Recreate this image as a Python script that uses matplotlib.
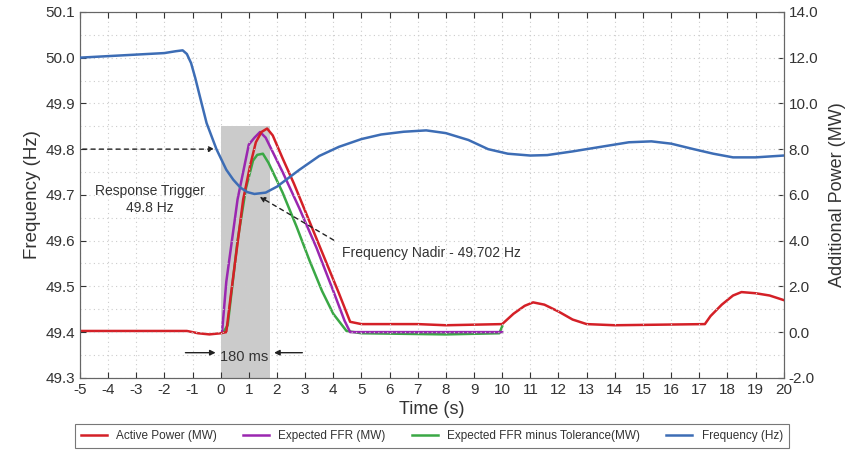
import matplotlib
matplotlib.use("Agg")
import matplotlib.pyplot as plt
import numpy as np

plt.rcParams['font.family'] = ['Liberation Sans', 'DejaVu Sans']
plt.rcParams['axes.unicode_minus'] = False

# frequency trace (Hz)
t_freq = [-5, -2, -1.6, -1.35, -1.2, -1.05, -0.9, -0.75, -0.5, -0.15, 0.2, 0.45, 0.7,
          0.95, 1.2, 1.6, 2.0, 2.8, 3.5, 4.2, 5.0, 5.7, 6.5, 7.3, 8.0, 8.8, 9.5, 10.2,
          11.0, 11.6, 12.5, 13.5, 14.5, 15.3, 16.0, 16.8, 17.5, 18.2, 19.0, 20]
freq = [50.000, 50.010, 50.014, 50.016, 50.008, 49.988, 49.955, 49.918, 49.857, 49.800,
        49.755, 49.733, 49.716, 49.706, 49.702, 49.705, 49.718, 49.755, 49.785, 49.805,
        49.822, 49.832, 49.838, 49.841, 49.835, 49.820, 49.800, 49.790, 49.786, 49.787,
        49.795, 49.805, 49.815, 49.817, 49.812, 49.800, 49.790, 49.782, 49.782, 49.786]

# active power (MW)
t_active = [-5, -2, -1.2, -0.8, -0.4, 0, 0.2, 0.35, 0.8, 1.05, 1.25, 1.45, 1.65, 1.85,
            2.2, 2.6, 3.0, 3.4, 3.8, 4.2, 4.6, 5, 7, 8, 10, 10.4, 10.8, 11.1, 11.5,
            12.0, 12.5, 13, 14, 17.2, 17.4, 17.8, 18.2, 18.5, 19.0, 19.5, 20]
active = [0.05, 0.05, 0.05, -0.05, -0.1, -0.05, 0.0, 1.5, 5.8, 7.3, 8.3, 8.75, 8.9, 8.6,
          7.6, 6.5, 5.3, 4.1, 2.9, 1.7, 0.45, 0.35, 0.35, 0.3, 0.35, 0.8, 1.15, 1.3, 1.2,
          0.9, 0.55, 0.35, 0.3, 0.35, 0.7, 1.2, 1.6, 1.75, 1.7, 1.6, 1.4]

# expected FFR (MW)
t_ffr = [0.05, 0.2, 0.6, 1.0, 1.2, 1.4, 1.6, 2.2, 2.8, 3.4, 4.0, 4.4, 4.6, 10]
ffr = [0.0, 2.2, 5.8, 8.2, 8.5, 8.75, 8.5, 7.0, 5.4, 3.7, 1.8, 0.5, 0.0, 0.0]

# expected FFR minus tolerance (MW)
t_tol = [0.1, 0.25, 0.6, 0.9, 1.15, 1.3, 1.5, 1.7, 2.2, 2.7, 3.15, 3.6, 4.0, 4.47,
         5, 8, 9.9, 10.0]
tol = [0.0, 0.3, 4.0, 6.3, 7.5, 7.75, 7.8, 7.4, 6.1, 4.6, 3.15, 1.8, 0.8, 0.05,
       -0.05, -0.1, -0.05, 0.25]

RED = '#d42027'
PURPLE = '#9a27b0'
GREEN = '#3aa845'
BLUE = '#3d6db5'

fig = plt.figure(figsize=(8.5, 4.58), dpi=100)
ax = fig.add_axes([0.094, 0.175, 0.828, 0.799])
ax2 = ax.twinx()

ax.set_xlim(-5, 20)
ax.set_ylim(49.3, 50.1)
ax2.set_ylim(-2, 14)

ax.set_xticks(np.arange(-5, 21, 1))
ax.set_yticks(np.arange(49.3, 50.11, 0.1))
ax.set_yticklabels(['%.1f' % v for v in np.arange(49.3, 50.11, 0.1)])
ax.set_yticks(np.arange(49.35, 50.1, 0.1), minor=True)
ax2.set_yticks(np.arange(-2, 14.1, 2))
ax2.set_yticklabels(['%.1f' % v for v in np.arange(-2, 14.1, 2)])

ax.grid(True, which='both', color='#cccccc', linestyle=(0, (1, 3)), linewidth=0.8)
ax.tick_params(which='minor', length=0)
ax.tick_params(axis='both', which='major', direction='in', top=True, length=4,
               labelsize=11, colors='#333333', labelcolor='#333333')
ax2.tick_params(axis='y', direction='in', length=4, labelsize=11, colors='#333333')
for a in (ax, ax2):
    for s in a.spines.values():
        s.set_color('#666666')

ax.set_zorder(ax2.get_zorder() + 1)
ax.patch.set_visible(False)

# shaded response window
ax2.fill_between([0, 1.75], -2, 9.0, color='#cbcbcb', zorder=1, linewidth=0)

ax2.plot(t_tol, tol, color=GREEN, lw=1.8, label='Expected FFR minus Tolerance(MW)', zorder=3)
ax2.plot(t_ffr, ffr, color=PURPLE, lw=1.8, label='Expected FFR (MW)', zorder=4)
ax2.plot(t_active, active, color=RED, lw=1.8, label='Active Power (MW)', zorder=5)
ax.plot(t_freq, freq, color=BLUE, lw=1.8, label='Frequency (Hz)', zorder=6)

ax.set_xlabel('Time (s)', fontsize=13, color='#333333', labelpad=3)
ax.set_ylabel('Frequency (Hz)', fontsize=13.5, color='#333333', labelpad=3)
ax2.set_ylabel('Additional Power (MW)', fontsize=13, color='#333333', labelpad=8)

# annotations
ax.annotate('', xy=(-0.12, 49.8), xytext=(-5, 49.8),
            arrowprops=dict(arrowstyle='-|>', linestyle=(0, (3, 3)), color='#222222',
                            lw=1.0, mutation_scale=8))
ax.text(-2.5, 49.69, 'Response Trigger\n49.8 Hz', ha='center', va='center',
        fontsize=10, color='#333333', linespacing=1.2)
ax.annotate('', xy=(1.3, 49.699), xytext=(4.1, 49.598),
            arrowprops=dict(arrowstyle='-|>', linestyle=(0, (3, 3)), color='#222222',
                            lw=1.0, mutation_scale=8))
ax.text(4.3, 49.573, 'Frequency Nadir - 49.702 Hz', ha='left', va='center',
        fontsize=10, color='#333333')
ax.annotate('', xy=(-0.08, 49.355), xytext=(-1.35, 49.355),
            arrowprops=dict(arrowstyle='-|>', color='#222222', lw=1.0, mutation_scale=8))
ax.annotate('', xy=(1.8, 49.355), xytext=(3.0, 49.355),
            arrowprops=dict(arrowstyle='-|>', color='#222222', lw=1.0, mutation_scale=8))
ax.text(0.85, 49.345, '180 ms', ha='center', va='center', fontsize=10.5, color='#333333')

h2, l2 = ax2.get_legend_handles_labels()
h1, l1 = ax.get_legend_handles_labels()
order = [2, 1, 0]
handles = [h2[i] for i in order] + h1
labels = [l2[i] for i in order] + l1
leg = fig.legend(handles, labels, loc='center', bbox_to_anchor=(0.508, 0.048), ncol=4,
                 fontsize=8.5, frameon=True, fancybox=False, edgecolor='#555555',
                 handlelength=2.2, columnspacing=2.2, borderpad=0.5)
leg.get_frame().set_linewidth(0.8)
for t in leg.get_texts():
    t.set_color('#333333')

fig.savefig('out.png', dpi=100)
